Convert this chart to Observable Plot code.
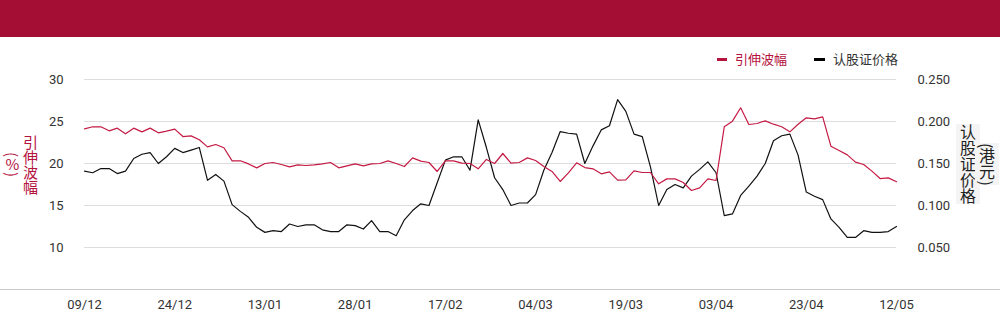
<!DOCTYPE html>
<html>
<head>
<meta charset="utf-8">
<script src="https://cdn.jsdelivr.net/npm/d3@7"></script>
<script src="https://cdn.jsdelivr.net/npm/@observablehq/plot@0.6"></script>
<style>
  html, body { margin:0; padding:0; background:#fff; }
  body { width:1000px; height:324px; position:relative; overflow:hidden; font-family: Roboto, "Noto Sans CJK SC", sans-serif; }
  #header { position:absolute; left:0; top:0; width:1000px; height:37px; background:#a50e34; }
  #chart { position:absolute; left:0; top:37px; }
  #baseline { position:absolute; left:0; top:289px; width:1000px; height:1px; background:#cccccc; }
  .legend { position:absolute; top:50px; font-family:"Noto Sans CJK SC", sans-serif; font-size:13px; line-height:18px; display:flex; align-items:center; }
  .sw { display:inline-block; width:10px; height:3px; margin-right:8px; }
  #ylabL { position:absolute; left:3px; top:135px; writing-mode:vertical-rl; font-family:"Noto Sans CJK SC", sans-serif; font-size:15px; line-height:18px; color:#b5123e; text-align:center; height:60px; }
  #ylabL .up { text-orientation:upright; }
  #ylabR { position:absolute; left:958px; top:123px; writing-mode:vertical-lr; font-family:"Noto Sans CJK SC", sans-serif; font-size:16px; line-height:19px; color:#222; text-align:center; height:82px; }
  #ylabR span { background:#f4f4f4; }
</style>
</head>
<body>
<div id="header"></div>
<div id="chart"></div>
<div id="baseline"></div>
<div class="legend" style="left:717px;"><span class="sw" style="background:#b5123e"></span><span style="color:#b5123e">引伸波幅</span></div>
<div class="legend" style="left:814px;"><span class="sw" style="width:11px;background:#000"></span><span style="color:#333">认股证价格</span></div>
<div id="ylabL">引伸波幅<br>(<span class="up">%</span>)</div>
<div id="ylabR"><span>认股证价格</span><br><span>(港元)</span></div>
<script>
const xLabels = ["09/12","24/12","13/01","28/01","17/02","04/03","19/03","03/04","23/04","12/05"];
const xTickIndex = [0, 11, 22, 33, 44, 55, 66, 77, 88, 99];
const volTicks = [10, 15, 20, 25, 30];
const priceTicks = [0.05, 0.10, 0.15, 0.20, 0.25];

// 引伸波幅 (%)
const vol = [
  24.13, 24.37, 24.37, 23.89, 24.21, 23.53, 24.21, 23.77, 24.21, 23.65,
  23.85, 24.09, 23.21, 23.29, 22.82, 21.98, 22.26, 21.87, 20.32, 20.32,
  19.95, 19.48, 20.00, 20.12, 19.88, 19.60, 19.84, 19.76, 19.84, 19.96,
  20.12, 19.48, 19.72, 19.96, 19.72, 19.96, 20.00, 20.32, 20.00, 19.64,
  20.67, 20.28, 20.12, 19.05, 20.32, 20.32, 20.04, 20.00, 19.37, 20.48,
  20.00, 21.19, 20.04, 20.12, 20.67, 20.36, 19.64, 19.05, 17.86, 18.89,
  20.08, 19.52, 19.37, 18.77, 19.01, 18.02, 18.06, 19.13, 18.93, 18.93,
  17.58, 18.17, 18.17, 17.74, 16.79, 17.10, 18.17, 17.98, 24.37, 25.04,
  26.63, 24.64, 24.76, 25.08, 24.68, 24.37, 23.77, 24.68, 25.44, 25.32,
  25.56, 22.06, 21.55, 21.03, 20.16, 19.88, 19.09, 18.21, 18.29, 17.82
];

// 认股证价格 (港元)
const price = [
  0.141, 0.139, 0.144, 0.144, 0.138, 0.141, 0.156, 0.161, 0.163, 0.150,
  0.158, 0.168, 0.163, 0.166, 0.169, 0.130, 0.137, 0.129, 0.101, 0.093,
  0.086, 0.074, 0.068, 0.070, 0.069, 0.078, 0.075, 0.077, 0.077, 0.071,
  0.069, 0.069, 0.077, 0.076, 0.072, 0.082, 0.069, 0.069, 0.064, 0.083,
  0.094, 0.102, 0.100, 0.127, 0.154, 0.158, 0.158, 0.142, 0.202, 0.169,
  0.133, 0.119, 0.100, 0.103, 0.103, 0.113, 0.142, 0.163, 0.188, 0.186,
  0.185, 0.150, 0.171, 0.190, 0.195, 0.226, 0.212, 0.185, 0.182, 0.146,
  0.100, 0.119, 0.125, 0.121, 0.135, 0.143, 0.152, 0.139, 0.088, 0.090,
  0.112, 0.123, 0.135, 0.150, 0.177, 0.183, 0.185, 0.160, 0.116, 0.111,
  0.107, 0.084, 0.074, 0.062, 0.062, 0.070, 0.068, 0.068, 0.069, 0.075
];

// right axis (price) is mapped onto the left axis (volatility) scale: 0.05 ↔ 10, 0.25 ↔ 30
const toLeft = p => p * 100 + 5;

const RED = "#c41a44";

const chart = Plot.plot({
  width: 1000,
  height: 287,
  marginTop: 0,
  marginBottom: 35,
  marginLeft: 84,
  marginRight: 104,
  x: { domain: [0, vol.length - 1], axis: null },
  y: { domain: [5, 35], axis: null },
  style: { fontFamily: "Roboto, sans-serif", fontSize: "13px", color: "#333", background: "transparent", overflow: "visible" },
  marks: [
    Plot.ruleY(volTicks, { stroke: "#dddddd", strokeWidth: 1 }),
    Plot.axisY({ anchor: "left", ticks: volTicks, tickSize: 0, tickPadding: 21, label: null, fontSize: 13 }),
    Plot.axisY({ anchor: "right", ticks: priceTicks.map(toLeft), tickSize: 0, tickPadding: 21, label: null, fontSize: 13,
      tickFormat: (d, i) => priceTicks[i].toFixed(3) }),
    Plot.axisX({ ticks: xTickIndex, tickSize: 0, tickPadding: 10, label: null, fontSize: 13,
      tickFormat: (d, i) => xLabels[i] }),
    Plot.lineY(price.map(toLeft), { stroke: "#111", strokeWidth: 1.2 }),
    Plot.lineY(vol, { stroke: RED, strokeWidth: 1.2 })
  ]
});
document.getElementById("chart").appendChild(chart);
</script>
</body>
</html>
